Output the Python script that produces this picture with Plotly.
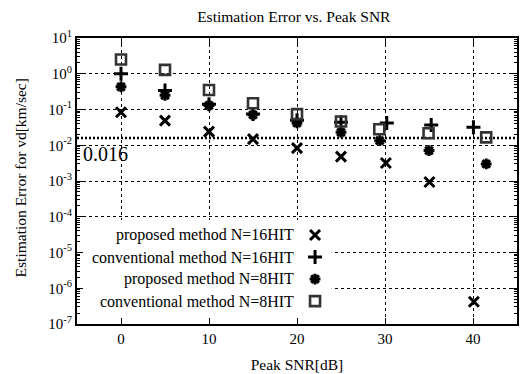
import plotly.graph_objects as go

# ---- data ----
x_prop16 = [0, 5, 10, 15, 20, 25, 30.1, 35.05, 40.1]
y_prop16 = [0.084, 0.049, 0.024, 0.0148, 0.0083, 0.0048, 0.0032, 0.00094, 4.2e-7]

x_conv16 = [0, 5, 10, 15, 20, 25, 30.2, 35.25, 40.05]
y_conv16 = [1.0, 0.34, 0.14, 0.075, 0.05, 0.044, 0.042, 0.037, 0.032]

x_prop8 = [0, 5, 10, 15, 20, 25, 29.4, 35.0, 41.5]
y_prop8 = [0.43, 0.25, 0.13, 0.071, 0.042, 0.023, 0.0134, 0.0071, 0.003]

x_conv8 = [0, 5, 10, 15, 20, 25, 29.35, 34.95, 41.5]
y_conv8 = [2.5, 1.28, 0.35, 0.15, 0.074, 0.046, 0.028, 0.0216, 0.0166]

threshold = 0.016
threshold_label = "0.016"

x_ticks = [0, 10, 20, 30, 40]
y_tick_vals = [1e-7, 1e-6, 1e-5, 1e-4, 1e-3, 1e-2, 1e-1, 1e0, 1e1]
y_tick_text = ["10<sup>-7</sup>", "10<sup>-6</sup>", "10<sup>-5</sup>", "10<sup>-4</sup>",
               "10<sup>-3</sup>", "10<sup>-2</sup>", "10<sup>-1</sup>", "10<sup>0</sup>",
               "10<sup>1</sup>"]

legend_names = ["proposed method N=16HIT", "conventional method N=16HIT",
                "proposed method N=8HIT", "conventional method N=8HIT"]

FONT = "Liberation Serif, Times New Roman, serif"

styles = [
    dict(symbol="x-thin-open", size=10, line=dict(width=3, color="black"), color="black"),
    dict(symbol="cross-thin-open", size=10, line=dict(width=3, color="black"), color="black"),
    dict(symbol="asterisk-open", size=9, line=dict(width=3, color="black"), color="black"),
    dict(symbol="square-open", size=10, line=dict(width=2.6, color="#333"), color="#333"),
]

fig = go.Figure()

# threshold line
fig.add_trace(go.Scatter(x=[-5, 45], y=[threshold, threshold], mode="lines",
                         line=dict(color="black", width=2.5, dash="2px,2px"),
                         showlegend=False, hoverinfo="skip"))

series = [(x_prop16, y_prop16), (x_conv16, y_conv16), (x_prop8, y_prop8), (x_conv8, y_conv8)]
for (xs, ys), st, name in zip(series, styles, legend_names):
    fig.add_trace(go.Scatter(x=xs, y=ys, mode="markers", marker=st, name=name,
                             showlegend=False))

# manual legend box (white, hides grid) on an overlay axis in 0..1 units
bx0, bx1, by0, by1 = 0.003, 0.579, 0.004, 0.364
fig.add_trace(go.Scatter(x=[bx0, bx1, bx1, bx0, bx0], y=[by0, by0, by1, by1, by0],
                         mode="lines", fill="toself", fillcolor="white",
                         line=dict(width=0, color="white"), xaxis="x2", yaxis="y2",
                         showlegend=False, hoverinfo="skip"))

leg_rows = [0.311, 0.234, 0.157, 0.080]
for name, st, ry in zip(legend_names, styles, leg_rows):
    fig.add_annotation(xref="paper", yref="paper", x=0.498, y=ry, text=name,
                       showarrow=False, xanchor="right", yanchor="middle",
                       font=dict(family=FONT, size=16, color="black"))
    fig.add_trace(go.Scatter(x=[0.541], y=[ry], mode="markers", marker=st,
                             xaxis="x2", yaxis="y2", showlegend=False, hoverinfo="skip"))

fig.add_annotation(xref="paper", yref="paper", x=0.008, y=0.594, text=threshold_label,
                   showarrow=False, xanchor="left", yanchor="middle",
                   font=dict(family=FONT, size=20, color="black"))

# y-axis title placed as rotated annotation
fig.add_annotation(xref="paper", yref="paper", x=-0.129, y=0.51,
                   text="Estimation Error for vd[km/sec]", textangle=-90,
                   showarrow=False, xanchor="center", yanchor="middle",
                   font=dict(family=FONT, size=15.5, color="black"))

fig.update_layout(
    width=520, height=374,
    margin=dict(l=77, r=1, t=38, b=50),
    paper_bgcolor="white", plot_bgcolor="white",
    font=dict(family=FONT, size=15, color="black"),
    title=dict(text="Estimation Error vs. Peak SNR", x=0.565, xanchor="center",
               y=0.957, yanchor="middle", font=dict(family=FONT, size=15.5)),
    xaxis=dict(range=[-5, 45], tickmode="array", tickvals=x_ticks,
               showgrid=True, gridcolor="black", gridwidth=1, griddash="dot",
               zeroline=False, showline=True, linecolor="black", linewidth=2,
               mirror="allticks", ticks="inside", ticklen=6, tickcolor="black",
               title=dict(text="Peak SNR[dB]", font=dict(size=15.5), standoff=13),
               tickfont=dict(size=15)),
    yaxis=dict(type="log", range=[-7, 1], tickmode="array", tickvals=y_tick_vals,
               ticktext=y_tick_text,
               showgrid=True, gridcolor="black", gridwidth=1, griddash="dot",
               zeroline=False, showline=True, linecolor="black", linewidth=2,
               mirror="allticks", ticks="inside", ticklen=6, tickcolor="black",
               minor=dict(ticks="inside", ticklen=3, tickcolor="black", dtick="D1",
                          showgrid=False),
               tickfont=dict(size=15)),
    xaxis2=dict(overlaying="x", range=[0, 1], visible=False),
    yaxis2=dict(overlaying="y", range=[0, 1], visible=False),
)

fig.write_html("out.html")
